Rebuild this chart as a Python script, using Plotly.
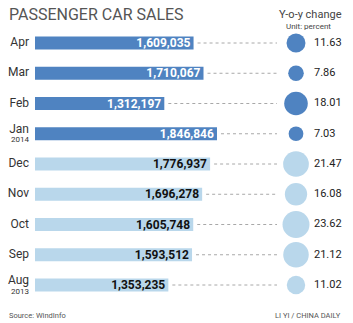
import plotly.graph_objects as go

months = ["Apr", "Mar", "Feb", "Jan", "Dec", "Nov", "Oct", "Sep", "Aug"]
years = ["", "", "", "2014", "", "", "", "", "2013"]
sales = [1609035, 1710067, 1312197, 1846846, 1776937, 1696278, 1605748, 1593512, 1353235]
sales_labels = ["1,609,035", "1,710,067", "1,312,197", "1,846,846", "1,776,937", "1,696,278",
                "1,605,748", "1,593,512", "1,353,235"]
yoy = [11.63, 7.86, 18.01, 7.03, 21.47, 16.08, 23.62, 21.12, 11.02]
is2014 = [True, True, True, True, False, False, False, False, False]

DARK = "#4f83c1"
LIGHT = "#b9d7eb"
FONT = "Roboto, sans-serif"

W, H = 353, 323
px = 10148.0           # data units per pixel on x
x0_px = 35             # pixel of zero
row0_px, row_step = 43, 30.25
ys = list(range(len(months)))

def xd(p):
    return (p - x0_px) * px

colors = [DARK if b else LIGHT for b in is2014]
tcolors = ["white" if b else "#111111" for b in is2014]

fig = go.Figure()
fig.add_trace(go.Bar(
    y=ys, x=sales, orientation="h", width=0.43,
    marker=dict(color=colors, line=dict(width=0)),
    text=["<b>%s</b>" % s for s in sales_labels], textposition="inside",
    insidetextanchor="end", constraintext="none",
    textfont=dict(color=tcolors, size=12, family=FONT),
    hoverinfo="skip",
))

# month labels (shifted up slightly when a year sits beneath)
fig.add_trace(go.Scatter(
    x=[xd(29)] * len(months), y=[y - (0.14 if yr else 0) for y, yr in zip(ys, years)],
    mode="text", text=months, textposition="middle left",
    textfont=dict(size=12, color="#333333", family=FONT), hoverinfo="skip"))
fig.add_trace(go.Scatter(
    x=[xd(29)] * len(months), y=[y + 0.22 for y in ys],
    mode="text", text=years, textposition="middle left",
    textfont=dict(size=8, color="#333333", family=FONT), hoverinfo="skip"))

# dotted leader lines
lx, ly = [], []
for v, y in zip(sales, ys):
    lx += [v + 4 * px, xd(277), None]
    ly += [y, y, None]
fig.add_trace(go.Scatter(x=lx, y=ly, mode="lines",
                         line=dict(color="#a8a8a8", width=1, dash="dot"),
                         hoverinfo="skip"))

# circles
maxd = 27.0
fig.add_trace(go.Scatter(
    x=[xd(296)] * len(yoy), y=ys, mode="markers",
    marker=dict(size=yoy, sizemode="area", sizeref=2 * max(yoy) / maxd ** 2,
                color=colors, line=dict(width=0), opacity=1),
    hoverinfo="skip"))

fig.add_trace(go.Scatter(
    x=[xd(314)] * len(yoy), y=ys, mode="text",
    text=["%.2f" % v for v in yoy], textposition="middle right",
    textfont=dict(size=11, color="#222222", family=FONT), hoverinfo="skip"))

fig.update_layout(
    width=W, height=H, margin=dict(l=0, r=0, t=0, b=0),
    paper_bgcolor="white", plot_bgcolor="white", showlegend=False,
    font=dict(family=FONT, color="#222222"),
    xaxis=dict(range=[xd(0), xd(W)], visible=False, fixedrange=True),
    yaxis=dict(range=[(H - row0_px) / row_step, -row0_px / row_step],
               visible=False, fixedrange=True),
    annotations=[
        dict(text="PASSENGER CAR SALES", x=7 / W, y=1 - 15 / H, xref="paper", yref="paper",
             xanchor="left", yanchor="middle", showarrow=False,
             font=dict(size=16, color="#555555", family=FONT)),
        dict(text="Y-o-y change", x=310 / W, y=1 - 14 / H, xref="paper", yref="paper",
             xanchor="center", yanchor="middle", showarrow=False,
             font=dict(size=11, color="#444444", family=FONT)),
        dict(text="Unit: percent", x=308 / W, y=1 - 26 / H, xref="paper", yref="paper",
             xanchor="center", yanchor="middle", showarrow=False,
             font=dict(size=8, color="#444444", family=FONT)),
        dict(text="Source: WindInfo", x=7 / W, y=1 - 315 / H, xref="paper", yref="paper",
             xanchor="left", yanchor="middle", showarrow=False,
             font=dict(size=7.5, color="#555555", family=FONT)),
        dict(text="LI YI / CHINA DAILY", x=343 / W, y=1 - 315 / H, xref="paper", yref="paper",
             xanchor="right", yanchor="middle", showarrow=False,
             font=dict(size=7.5, color="#555555", family=FONT)),
    ],
)
fig.write_html("out.html")
